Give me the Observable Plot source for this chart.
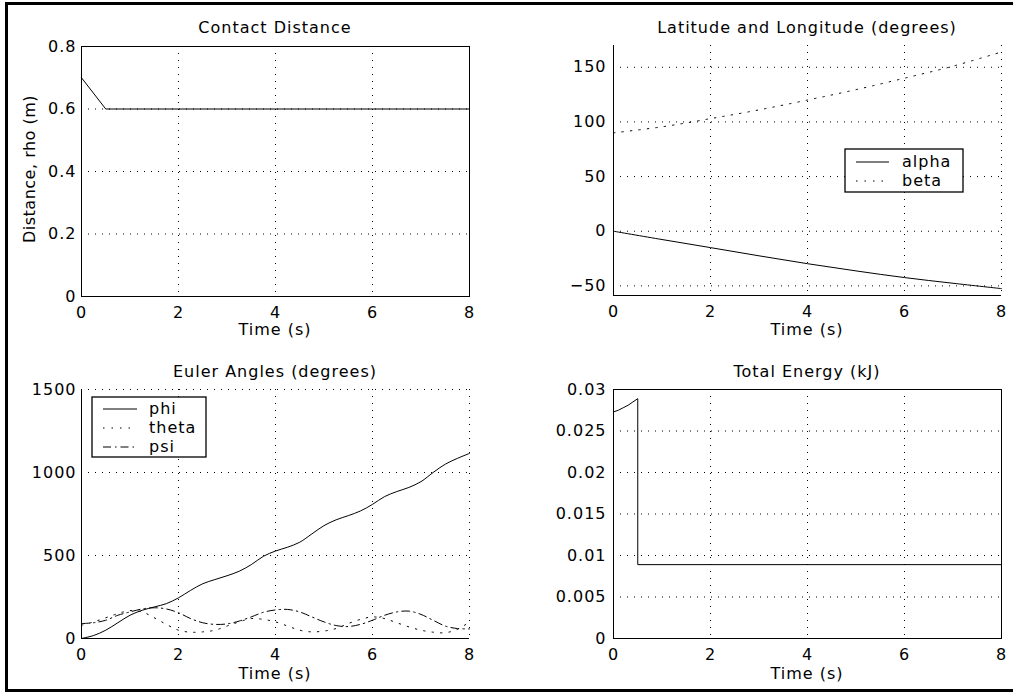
<!DOCTYPE html>
<html><head><meta charset="utf-8">
<script src="https://cdn.jsdelivr.net/npm/d3@7"></script>
<script src="https://cdn.jsdelivr.net/npm/@observablehq/plot@0.6"></script>
<style>
html,body{margin:0;padding:0;background:#fff;overflow:hidden;}
#fig{position:relative;width:1013px;height:694px;overflow:hidden;background:#fff;}
#border{position:absolute;left:5px;top:2px;width:1030px;height:690px;border:3px solid #000;box-sizing:border-box;}
.panel{position:absolute;}
#overlay{position:absolute;left:0;top:0;pointer-events:none;}
</style></head><body><div id="fig"><div id="border"></div></div>
<script>
// ---------- data ----------
const xTicks = [0, 2, 4, 6, 8];

// Contact distance
const tRho = [0, 0.5, 8];
const rho = [0.7, 0.6, 0.6];
const rhoTicks = [0, 0.2, 0.4, 0.6, 0.8];

// Latitude and longitude
const tLL = [0, 1, 2, 3, 4, 5, 6, 7, 8];
const alpha = [0, -7.6, -15, -22.5, -29.7, -36.3, -42.4, -47.6, -52.5];
const beta = [90, 95.5, 103, 111, 120, 129.5, 140, 151, 164];
const llTicks = [-50, 0, 50, 100, 150];

// Euler angles
const tEu = [0, 0.25, 0.5, 0.75, 1, 1.25, 1.5, 1.75, 2, 2.25, 2.5, 2.75, 3, 3.25, 3.5, 3.75, 4,
             4.25, 4.5, 4.75, 5, 5.25, 5.5, 5.75, 6, 6.25, 6.5, 6.75, 7, 7.25, 7.5, 7.75, 8];
const phi = [0, 18, 50, 95, 140, 170, 190, 210, 245, 290, 330, 355, 378, 405, 445, 495, 527,
             550, 580, 630, 680, 715, 740, 768, 808, 855, 885, 910, 945, 1000, 1050, 1085, 1115];
const theta = [80, 100, 125, 150, 168, 160, 125, 85, 50, 38, 40, 50, 75, 100, 120, 115, 100,
               75, 50, 40, 45, 60, 90, 115, 130, 120, 95, 70, 50, 38, 35, 55, 100];
const psi = [90, 95, 110, 140, 160, 178, 185, 178, 155, 120, 95, 85, 88, 105, 130, 158, 172,
             175, 160, 130, 100, 78, 72, 85, 110, 140, 160, 165, 145, 110, 75, 60, 58];
const euTicks = [0, 500, 1000, 1500];

// Total energy
const tE = [0, 0.1, 0.2, 0.3, 0.4, 0.5, 0.5, 8];
const energy = [0.0273, 0.0275, 0.0278, 0.0281, 0.0285, 0.0289, 0.0089, 0.0089];
const eTicks = [0, 0.005, 0.01, 0.015, 0.02, 0.025, 0.03];

const titles = ["Contact Distance", "Latitude and Longitude (degrees)", "Euler Angles (degrees)", "Total Energy (kJ)"];
const xLabel = "Time (s)";
const yLabel1 = "Distance, rho (m)";
const legendLL = ["alpha", "beta"];
const legendEu = ["phi", "theta", "psi"];

// ---------- styles ----------
const FONT = "'DejaVu Sans', sans-serif";
const GRID = "1,6";
const DOT = "1.5,7";
const DASHDOT = "8,4,1.5,4";
const fig = document.getElementById("fig");

const zip = (t, v) => t.map((d, i) => ({t: d, v: v[i]}));

function panel({left, top, width, height, margin, yDomain, yTicks, yFormat, marks, box, padY}) {
  const axesLines = box
    ? [Plot.frame({stroke: "black", strokeWidth: 1})]
    : [Plot.ruleX([0], {stroke: "black", strokeWidth: 1}), Plot.ruleY([yDomain[0]], {stroke: "black", strokeWidth: 1})];
  const chart = Plot.plot({
    width, height,
    marginTop: margin[0], marginRight: margin[1], marginBottom: margin[2], marginLeft: margin[3],
    style: {fontFamily: FONT, fontSize: "16px", background: "transparent", color: "black", letterSpacing: "1px", overflow: "visible"},
    x: {domain: [0, 8]},
    y: {domain: yDomain},
    marks: [
      Plot.gridX({ticks: xTicks, stroke: "black", strokeOpacity: 1, strokeWidth: 1, strokeDasharray: GRID}),
      Plot.gridY({ticks: yTicks, stroke: "black", strokeOpacity: 1, strokeWidth: 1, strokeDasharray: GRID}),
      ...axesLines,
      ...marks,
      Plot.axisX({ticks: xTicks, tickSize: 0, tickPadding: 10, tickFormat: d => String(d), label: null}),
      Plot.axisY({ticks: yTicks, tickSize: 0, tickPadding: padY, tickFormat: yFormat, label: null})
    ]
  });
  chart.classList.add("panel");
  chart.style.left = left + "px";
  chart.style.top = top + "px";
  fig.appendChild(chart);
}

const line = (data, dash, curve) => Plot.line(data, {x: "t", y: "v", stroke: "black", strokeWidth: 1, strokeDasharray: dash, curve: curve || "linear"});

panel({left: 0, top: 0, width: 506, height: 347, margin: [46, 37, 51, 81],
  yDomain: [0, 0.8], yTicks: rhoTicks, yFormat: d => String(d), box: true, padY: 5,
  marks: [line(zip(tRho, rho))]});

panel({left: 506, top: 0, width: 507, height: 347, margin: [45, 12, 52, 107],
  yDomain: [-58.8, 169.9], yTicks: llTicks, yFormat: d => d < 0 ? "\u2212" + Math.abs(d) : String(d), box: false, padY: 7,
  marks: [line(zip(tLL, alpha), null, "catmull-rom"), line(zip(tLL, beta), DOT, "catmull-rom")]});

panel({left: 0, top: 347, width: 506, height: 347, margin: [42, 37, 56, 81],
  yDomain: [0, 1500], yTicks: euTicks, yFormat: d => String(d), box: false, padY: 5,
  marks: [line(zip(tEu, phi), null, "catmull-rom"), line(zip(tEu, theta), DOT, "catmull-rom"), line(zip(tEu, psi), DASHDOT, "catmull-rom")]});

panel({left: 506, top: 347, width: 507, height: 347, margin: [42, 12, 56, 107],
  yDomain: [0, 0.03], yTicks: eTicks, yFormat: d => String(d), box: true, padY: 7,
  marks: [line(zip(tE, energy))]});

// ---------- overlay: titles, labels, legends ----------
const svg = d3.select(fig).append("svg").attr("id", "overlay").attr("width", 1013).attr("height", 694)
  .style("font-family", FONT).style("font-size", "16px").style("letter-spacing", "1px");

const centers = [[275, 33], [807, 33], [275, 377], [807, 377]];
titles.forEach((t, i) => svg.append("text").attr("x", centers[i][0]).attr("y", centers[i][1]).attr("text-anchor", "middle").text(t));
[[275, 335], [807, 335], [275, 679], [807, 679]].forEach(([x, y]) =>
  svg.append("text").attr("x", x).attr("y", y).attr("text-anchor", "middle").text(xLabel));
svg.append("text").attr("transform", "translate(35,169) rotate(-90)").attr("text-anchor", "middle")
  .style("letter-spacing", "0.5px").text(yLabel1);

function legend(x, y, w, h, names, dashes, rowY, sx0, sx1, tx) {
  svg.append("rect").attr("x", x).attr("y", y).attr("width", w).attr("height", h)
    .attr("fill", "white").attr("stroke", "black").attr("stroke-width", 1.3);
  names.forEach((n, i) => {
    svg.append("line").attr("x1", sx0).attr("x2", sx1).attr("y1", rowY[i]).attr("y2", rowY[i])
      .attr("stroke", "black").attr("stroke-width", 1).attr("stroke-dasharray", dashes[i]);
    svg.append("text").attr("x", tx).attr("y", rowY[i] + 5).text(n);
  });
}
legend(845, 149, 118, 43, legendLL, [null, DOT], [162, 181], 856, 889, 902);
legend(92, 397, 114, 60, legendEu, [null, DOT, DASHDOT], [409, 428, 447], 103, 137, 149);
</script></body></html>
